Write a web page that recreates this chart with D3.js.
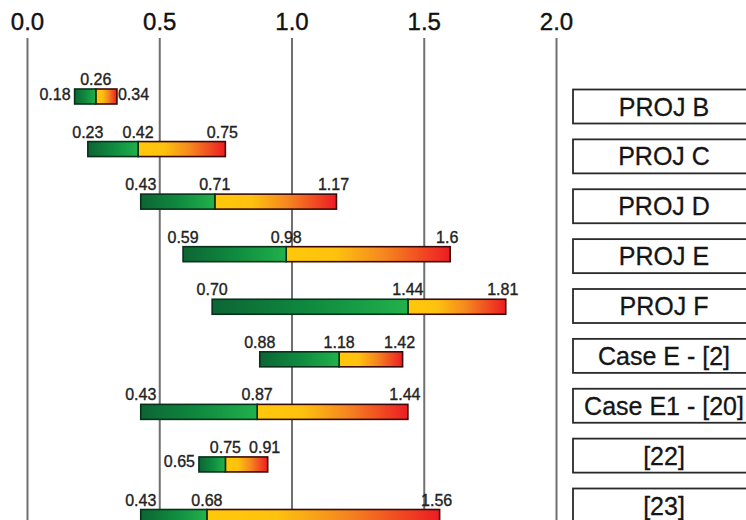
<!DOCTYPE html>
<html>
<head>
<meta charset="utf-8">
<script src="https://cdn.jsdelivr.net/npm/d3@7"></script>
<style>
  html, body { margin: 0; padding: 0; background: #fff; }
  svg { display: block; font-family: "Liberation Sans", Arial, sans-serif; }
</style>
</head>
<body>
<svg id="chart" width="746" height="520"></svg>
<script>
const categories = ["PROJ B", "PROJ C", "PROJ D", "PROJ E", "PROJ F", "Case E - [2]", "Case E1 - [20]", "[22]", "[23]"];
const lowValues  = [0.18, 0.23, 0.43, 0.59, 0.70, 0.88, 0.43, 0.65, 0.43];
const midValues  = [0.26, 0.42, 0.71, 0.98, 1.44, 1.18, 0.87, 0.75, 0.68];
const highValues = [0.34, 0.75, 1.17, 1.60, 1.81, 1.42, 1.44, 0.91, 1.56];
const lowLabels  = ["0.18", "0.23", "0.43", "0.59", "0.70", "0.88", "0.43", "0.65", "0.43"];
const midLabels  = ["0.26", "0.42", "0.71", "0.98", "1.44", "1.18", "0.87", "0.75", "0.68"];
const highLabels = ["0.34", "0.75", "1.17", "1.6", "1.81", "1.42", "1.44", "0.91", "1.56"];
const tickValues = [0, 0.5, 1.0, 1.5, 2.0];
const tickLabels = ["0.0", "0.5", "1.0", "1.5", "2.0"];

const rows = categories.map((c, i) => ({
  cat: c, low: lowValues[i], mid: midValues[i], high: highValues[i],
  lowL: lowLabels[i], midL: midLabels[i], highL: highLabels[i]
}));

const svg = d3.select("#chart");
const W = 746, H = 520;

const x = d3.scaleLinear().domain([0, 2]).range([27, 556]);
const yBar = d3.scalePoint().domain(categories).range([96.5, 517]);
const yBox = d3.scalePoint().domain(categories).range([106.5, 505.5]);

// gradients
const defs = svg.append("defs");
const gGreen = defs.append("linearGradient").attr("id", "gGreen").attr("x1", "0").attr("x2", "1").attr("y1", "0").attr("y2", "0");
gGreen.append("stop").attr("offset", "0").attr("stop-color", "#0d6534");
gGreen.append("stop").attr("offset", "0.5").attr("stop-color", "#0f8a3f");
gGreen.append("stop").attr("offset", "1").attr("stop-color", "#22b14c");
const gHot = defs.append("linearGradient").attr("id", "gHot").attr("x1", "0").attr("x2", "1").attr("y1", "0").attr("y2", "0");
gHot.append("stop").attr("offset", "0").attr("stop-color", "#ffc80a");
gHot.append("stop").attr("offset", "0.3").attr("stop-color", "#fdc20e");
gHot.append("stop").attr("offset", "0.6").attr("stop-color", "#f5861f");
gHot.append("stop").attr("offset", "1").attr("stop-color", "#ed1c24");

// axis with gridlines
const axis = d3.axisTop(x)
  .tickValues(tickValues)
  .tickFormat((d, i) => tickLabels[i])
  .tickSize(H - 38)
  .tickPadding(8.5);

const ag = svg.append("g")
  .attr("transform", `translate(0,${H})`)
  .call(axis);
ag.select(".domain").remove();
ag.selectAll(".tick line").attr("stroke", "#707070").attr("stroke-width", 2);
ag.selectAll(".tick text")
  .attr("fill", "#111")
  .attr("stroke", "#111")
  .attr("stroke-width", 0.4)
  .style("font-size", "24px")
  .style("font-family", "'Liberation Sans', Arial, sans-serif");

// bars
const barH = 15;
const bg = svg.append("g");
const rowG = bg.selectAll("g.row").data(rows).join("g").attr("class", "row");

rowG.append("rect")
  .attr("x", d => x(d.mid))
  .attr("y", d => yBar(d.cat) - barH / 2)
  .attr("width", d => x(d.high) - x(d.mid))
  .attr("height", barH)
  .attr("fill", "url(#gHot)")
  .attr("stroke", "#3a0a08")
  .attr("stroke-width", 1.6);

rowG.append("rect")
  .attr("x", d => x(d.low))
  .attr("y", d => yBar(d.cat) - barH / 2)
  .attr("width", d => x(d.mid) - x(d.low))
  .attr("height", barH)
  .attr("fill", "url(#gGreen)")
  .attr("stroke", "#08301a")
  .attr("stroke-width", 1.6);

const labW = 34;
const labStyle = sel => sel
  .attr("fill", "#222")
  .attr("stroke", "#222")
  .attr("stroke-width", 0.35)
  .style("font-size", "16px");

// middle label (always above)
rowG.append("text")
  .attr("x", d => x(d.mid))
  .attr("y", d => yBar(d.cat) - barH / 2 - 4)
  .attr("text-anchor", "middle")
  .text(d => d.midL)
  .call(labStyle);

// low label: above, or to the left when crowded
rowG.append("text")
  .each(function (d) {
    const crowded = x(d.mid) - x(d.low) < labW;
    d3.select(this)
      .attr("x", crowded ? x(d.low) - 4 : x(d.low))
      .attr("y", crowded ? yBar(d.cat) + 3 : yBar(d.cat) - barH / 2 - 4)
      .attr("text-anchor", crowded ? "end" : "middle");
  })
  .text(d => d.lowL)
  .call(labStyle);

// high label: above, or to the right when crowded
rowG.append("text")
  .each(function (d) {
    const crowded = x(d.high) - x(d.mid) < labW;
    d3.select(this)
      .attr("x", crowded ? x(d.high) + 1 : x(d.high) - 3)
      .attr("y", crowded ? yBar(d.cat) + 3 : yBar(d.cat) - barH / 2 - 4)
      .attr("text-anchor", crowded ? "start" : "middle");
  })
  .text(d => d.highL)
  .call(labStyle);

// right-hand category boxes
const boxH = 34, boxX = 573, boxW = 190;
const boxG = svg.append("g").selectAll("g").data(rows).join("g");
boxG.append("rect")
  .attr("x", boxX)
  .attr("y", d => yBox(d.cat) - boxH / 2)
  .attr("width", boxW)
  .attr("height", boxH)
  .attr("fill", "#fff")
  .attr("stroke", "#2a2a2a")
  .attr("stroke-width", 1.8);
boxG.append("text")
  .attr("x", 664)
  .attr("y", d => yBox(d.cat))
  .attr("dy", "0.36em")
  .attr("text-anchor", "middle")
  .attr("fill", "#151515")
  .attr("stroke", "#151515")
  .attr("stroke-width", 0.3)
  .style("font-size", "25px")
  .text(d => d.cat);
</script>
</body>
</html>
